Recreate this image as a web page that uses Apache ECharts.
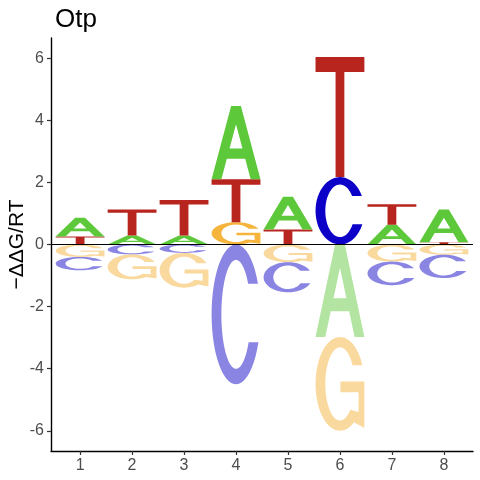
<!DOCTYPE html>
<html>
<head>
<meta charset="utf-8">
<title>Otp</title>
<script src="https://cdn.jsdelivr.net/npm/echarts@6.0.0/dist/echarts.min.js"></script>
<style>
  html, body { margin: 0; padding: 0; background: #fff; }
  #main { width: 480px; height: 480px; }
</style>
</head>
<body>
<div id="main"></div>
<script>
// energy logo values, one signed value per base and position
var positions = [1, 2, 3, 4, 5, 6, 7, 8];
var bases = ['A', 'C', 'G', 'T'];
var valA = [0.60, 0.29, 0.29, 2.36, 1.06, -2.98, 0.64, 1.06];
var valC = [-0.43, -0.32, -0.27, -4.50, -0.97, 2.17, -0.76, -0.75];
var valG = [-0.40, -0.80, -1.12, 0.72, -0.57, -3.02, -0.55, -0.33];
var valT = [0.26, 0.84, 1.14, 1.38, 0.48, 3.87, 0.66, 0.07];
var yTicks = [-6, -4, -2, 0, 2, 4, 6];

var colUp = { A: '#5cc83a', C: '#0c00c8', G: '#f5b43c', T: '#b8251e' };
var colDown = { A: '#b3e4a2', C: '#8a85e3', G: '#fad99e', T: '#dca09b' };

// letter outlines in a unit box (y down)
function arc(rx, ry, a0, a1, n) {
  var pts = [];
  for (var k = 0; k <= n; k++) {
    var a = (a0 + (a1 - a0) * k / n) * Math.PI / 180;
    pts.push([0.5 + rx * Math.cos(a), 0.5 - ry * Math.sin(a)]);
  }
  return pts;
}
var GLYPHS = {
  A: [
    [[0, 1], [0.4, 0], [0.6, 0], [1, 1], [0.8, 1], [0.688, 0.72], [0.312, 0.72], [0.2, 1]],
    [[0.368, 0.58], [0.632, 0.58], [0.5, 0.25]]
  ],
  T: [
    [[0, 0], [1, 0], [1, 0.125], [0.59, 0.125], [0.59, 1], [0.41, 1], [0.41, 0.125], [0, 0.125]]
  ],
  C: [
    arc(0.5, 0.5, 26.1, 336.4, 48).concat(arc(0.3, 0.39, 329.1, 34.3, 48))
  ],
  G: [
    arc(0.5, 0.5, 23.6, 305, 48)
      .concat([[1, 0.97], [1, 0.475], [0.51, 0.475], [0.51, 0.59], [0.88, 0.59], [0.88, 0.8]])
      .concat(arc(0.3, 0.39, 315, 30.9, 48))
  ]
};

function glyphPath(name, x, y, w, h) {
  return GLYPHS[name].map(function (poly) {
    return poly.map(function (p, k) {
      return (k ? 'L' : 'M') + (x + p[0] * w).toFixed(2) + ' ' + (y + p[1] * h).toFixed(2);
    }).join(' ') + ' Z';
  }).join(' ');
}

// stack letters: smallest next to zero, largest outermost
var vals = { A: valA, C: valC, G: valG, T: valT };
var items = [];
positions.forEach(function (pos, i) {
  var up = [], down = [];
  bases.forEach(function (b, bi) {
    var v = vals[b][i];
    if (v > 0) up.push([bi, v]);
    else if (v < 0) down.push([bi, v]);
  });
  up.sort(function (a, b) { return a[1] - b[1]; });
  down.sort(function (a, b) { return b[1] - a[1]; });
  var acc = 0;
  up.forEach(function (d) { items.push([pos, acc, acc + d[1], d[0], 1]); acc += d[1]; });
  acc = 0;
  down.forEach(function (d) { items.push([pos, acc + d[1], acc, d[0], -1]); acc += d[1]; });
});

var letterWidth = 0.94;

var myChart = echarts.init(document.getElementById('main'));
var option = {
  animation: false,
  title: {
    text: 'Otp',
    left: 50,
    top: 2,
    textStyle: { fontFamily: 'Liberation Sans', fontSize: 26, fontWeight: 'normal', color: '#000' }
  },
  grid: { left: 51, right: 7, top: 38, bottom: 29, containLabel: false, outerBoundsMode: 'none' },
  xAxis: {
    type: 'value',
    min: 0.44,
    max: 8.56,
    splitLine: { show: false },
    axisLine: { show: true, onZero: false, lineStyle: { color: '#000', width: 1.4 } },
    axisTick: { show: true, length: 4, customValues: positions, lineStyle: { color: '#333', width: 1.2 } },
    axisLabel: {
      customValues: positions, margin: 7,
      fontFamily: 'Liberation Sans', fontSize: 16, color: '#4d4d4d'
    }
  },
  yAxis: {
    type: 'value',
    min: -6.65,
    max: 6.65,
    name: '\u2212\u0394\u0394G/RT',
    nameLocation: 'middle',
    nameRotate: 90,
    nameGap: 23,
    nameMoveOverlap: false,
    nameTextStyle: { fontFamily: 'Liberation Sans', fontSize: 21, color: '#000' },
    splitLine: { show: false },
    axisLine: { show: true, onZero: false, lineStyle: { color: '#000', width: 1.4 } },
    axisTick: { show: true, length: 4, customValues: yTicks, lineStyle: { color: '#333', width: 1.2 } },
    axisLabel: {
      customValues: yTicks, margin: 7,
      fontFamily: 'Liberation Sans', fontSize: 16, color: '#4d4d4d'
    }
  },
  series: [{
    type: 'custom',
    data: items,
    renderItem: function (params, api) {
      var x = api.value(0), lo = api.value(1), hi = api.value(2);
      var b = bases[api.value(3)];
      var p0 = api.coord([x - letterWidth / 2, hi]);
      var p1 = api.coord([x + letterWidth / 2, lo]);
      return {
        type: 'path',
        shape: { pathData: glyphPath(b, p0[0], p0[1], p1[0] - p0[0], p1[1] - p0[1]) },
        style: { fill: api.value(4) > 0 ? colUp[b] : colDown[b], stroke: null }
      };
    },
    markLine: {
      silent: true,
      symbol: ['none', 'none'],
      label: { show: false },
      lineStyle: { color: '#000', width: 1, type: 'solid' },
      data: [{ yAxis: 0 }]
    }
  }]
};
myChart.setOption(option);
</script>
</body>
</html>
